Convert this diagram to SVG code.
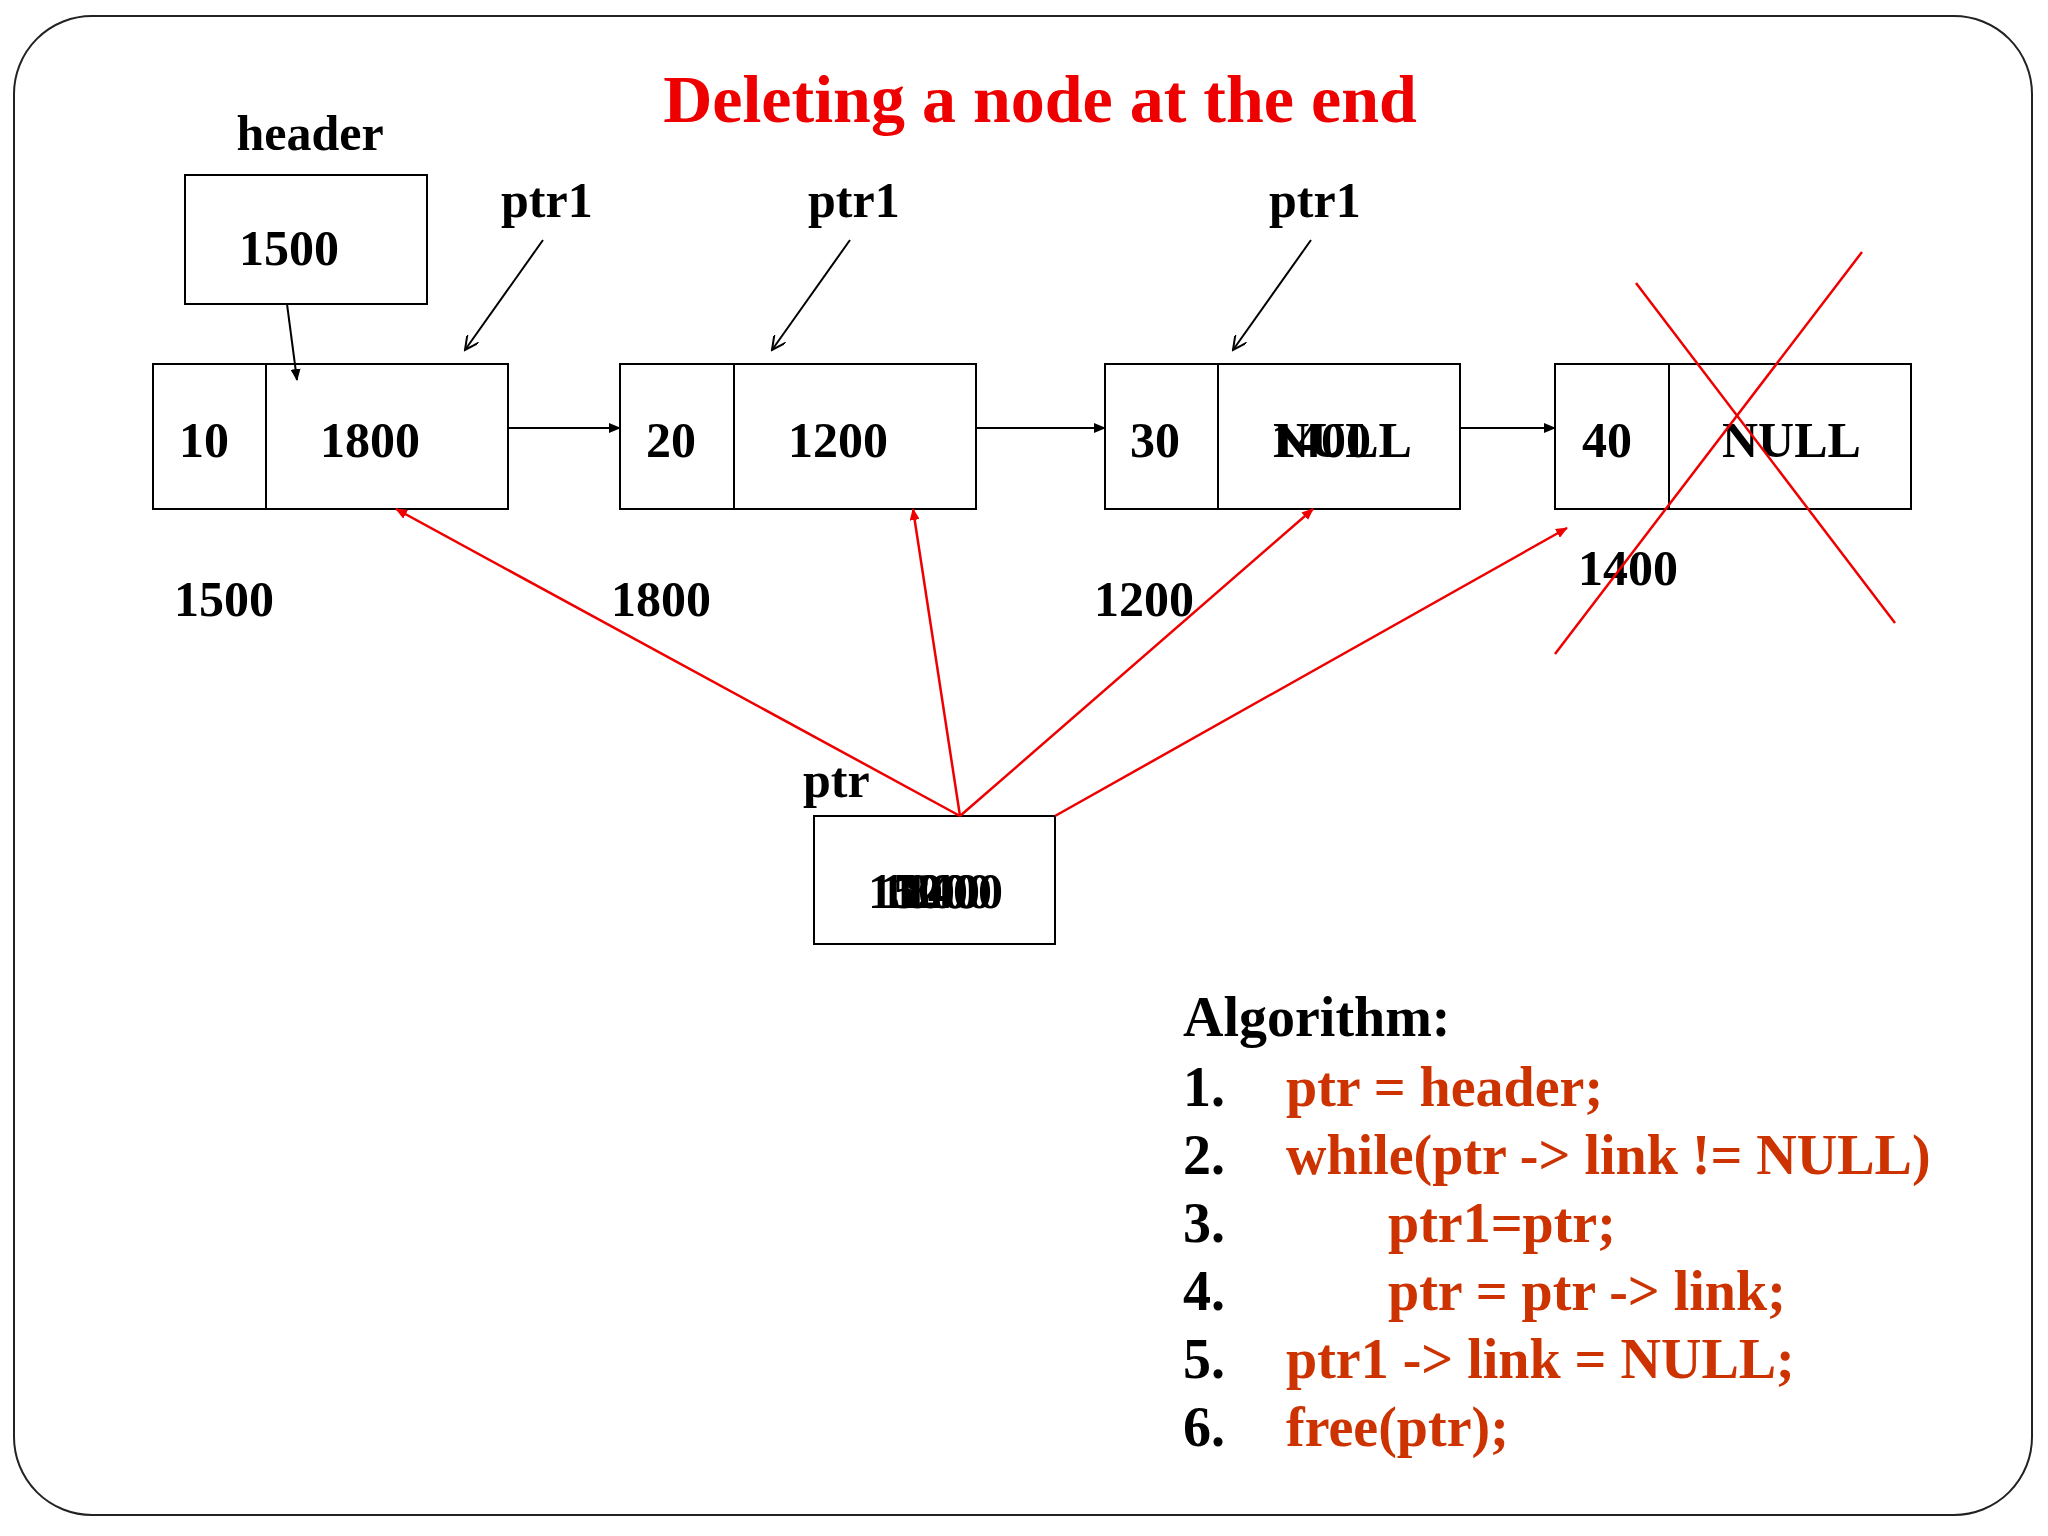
<svg xmlns="http://www.w3.org/2000/svg" width="2048" height="1536" viewBox="0 0 2048 1536">
<style>
text{font-family:"Liberation Serif","Times New Roman",serif;font-weight:bold;fill:#000}
.t{font-size:50px}
.c{font-size:56px}
.r{fill:#cc3300}
.box{fill:#fff;stroke:#000;stroke-width:2}
.k{stroke:#000;stroke-width:2;fill:none}
.rd{stroke:#e00;stroke-width:2.5;fill:none}
</style>
<defs>
<marker id="ab" markerWidth="12" markerHeight="10" refX="11" refY="5" orient="auto" markerUnits="userSpaceOnUse" viewBox="0 0 12 10"><path d="M0,0L12,5L0,10z" fill="#000"/></marker>
<marker id="ar" markerWidth="12" markerHeight="10" refX="11" refY="5" orient="auto" markerUnits="userSpaceOnUse" viewBox="0 0 12 10"><path d="M0,0L12,5L0,10z" fill="#e00"/></marker>
<marker id="op" markerWidth="16" markerHeight="14" refX="14" refY="7" orient="auto" markerUnits="userSpaceOnUse" viewBox="0 0 16 14"><path d="M0,0L14,7L0,14" fill="none" stroke="#000" stroke-width="2"/></marker>
</defs>
<rect x="14" y="16" width="2018" height="1499" rx="78" fill="#fff" stroke="#222" stroke-width="2"/>
<text x="1040" y="122" text-anchor="middle" style="font-size:68px;fill:#e00">Deleting a node at the end</text>
<g id="header"><text class="t" x="310" y="150" text-anchor="middle">header</text>
<rect class="box" x="185" y="175" width="242" height="129"/><text class="t" x="239" y="265">1500</text></g>
<g id="node1"><rect class="box" x="153" y="364" width="355" height="145"/><line class="k" x1="266" y1="364" x2="266" y2="509"/><text class="t" x="179" y="457">10</text><text class="t" x="320" y="457">1800</text></g>
<g id="node2"><rect class="box" x="620" y="364" width="356" height="145"/><line class="k" x1="734" y1="364" x2="734" y2="509"/><text class="t" x="646" y="457">20</text><text class="t" x="788" y="457">1200</text></g>
<g id="node3"><rect class="box" x="1105" y="364" width="355" height="145"/><line class="k" x1="1218" y1="364" x2="1218" y2="509"/><text class="t" x="1130" y="457">30</text><text class="t" x="1271" y="457">1400</text><text class="t" x="1273" y="457">NULL</text></g>
<g id="node4"><rect class="box" x="1555" y="364" width="356" height="145"/><line class="k" x1="1669" y1="364" x2="1669" y2="509"/><text class="t" x="1582" y="457">40</text><text class="t" x="1722" y="457">NULL</text></g>
<g id="labels">
<text class="t" x="501" y="217">ptr1</text><text class="t" x="808" y="217">ptr1</text><text class="t" x="1269" y="217">ptr1</text>
<text class="t" x="174" y="616">1500</text><text class="t" x="611" y="616">1800</text><text class="t" x="1094" y="616">1200</text><text class="t" x="1578" y="585">1400</text>
</g>
<g id="ptr"><text class="t" x="803" y="797">ptr</text><rect class="box" x="814" y="816" width="241" height="128"/>
<text class="t" x="868" y="908">1500</text><text class="t" x="880" y="908">1800</text><text class="t" x="892" y="908">1200</text><text class="t" x="903" y="908">1400</text></g>
<g id="connectors">
<line class="k" x1="287" y1="304" x2="297" y2="380" marker-end="url(#ab)"/>
<line class="k" x1="508" y1="428" x2="620" y2="428" marker-end="url(#ab)"/>
<line class="k" x1="976" y1="428" x2="1105" y2="428" marker-end="url(#ab)"/>
<line class="k" x1="1460" y1="428" x2="1555" y2="428" marker-end="url(#ab)"/>
<line class="k" x1="543" y1="240" x2="465" y2="350" marker-end="url(#op)"/>
<line class="k" x1="850" y1="240" x2="772" y2="350" marker-end="url(#op)"/>
<line class="k" x1="1311" y1="240" x2="1233" y2="350" marker-end="url(#op)"/>
<line class="rd" x1="960" y1="816" x2="396" y2="509" marker-end="url(#ar)"/>
<line class="rd" x1="960" y1="816" x2="913" y2="509" marker-end="url(#ar)"/>
<line class="rd" x1="960" y1="816" x2="1313" y2="509" marker-end="url(#ar)"/>
<line class="rd" x1="1055" y1="816" x2="1567" y2="528" marker-end="url(#ar)"/>
<line class="rd" x1="1636" y1="283" x2="1895" y2="623"/>
<line class="rd" x1="1862" y1="252" x2="1555" y2="654"/>
</g>
<g id="algorithm">
<text class="c" x="1183" y="1036">Algorithm:</text>
<text class="c" x="1183" y="1106">1.</text><text class="c r" x="1286" y="1106">ptr = header;</text>
<text class="c" x="1183" y="1174">2.</text><text class="c r" x="1286" y="1174">while(ptr -&gt; link != NULL)</text>
<text class="c" x="1183" y="1242">3.</text><text class="c r" x="1388" y="1242">ptr1=ptr;</text>
<text class="c" x="1183" y="1310">4.</text><text class="c r" x="1388" y="1310">ptr = ptr -&gt; link;</text>
<text class="c" x="1183" y="1378">5.</text><text class="c r" x="1286" y="1378">ptr1 -&gt; link = NULL;</text>
<text class="c" x="1183" y="1446">6.</text><text class="c r" x="1286" y="1446">free(ptr);</text>
</g>
</svg>
